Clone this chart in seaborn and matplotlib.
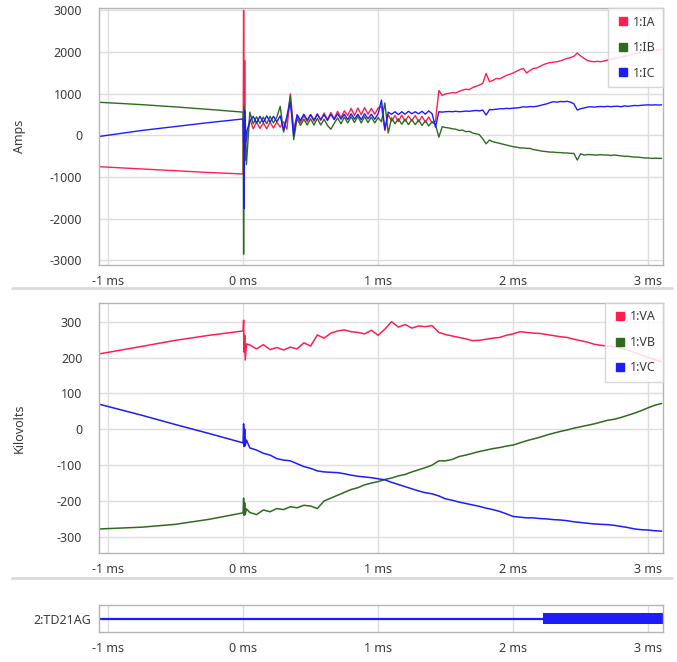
import numpy as np
import pandas as pd
import matplotlib
matplotlib.use("Agg")
import matplotlib.pyplot as plt
from matplotlib.lines import Line2D
from matplotlib.ticker import FuncFormatter, FixedLocator
import seaborn as sns

# ---------------- record time base (ms) ----------------
T_PRE = [-1.067, -0.75, -0.5, -0.25, 0.0]          # pre-fault samples
T_FAULT_I = [0.004, 0.008, 0.012, 0.016]            # inception burst, currents
T_FAULT_V = [0.004, 0.008, 0.012, 0.016, 0.025]     # inception burst, voltages
DT_I = 0.025                                        # post-fault sample step, currents
DT_V = 0.05                                         # post-fault sample step, voltages

# ---------------- currents (A) ----------------
IA_PRE = [-750, -805, -850, -890, -925]
IA_FAULT = [3000, -300, 1800, -150]
IA_POST = [
    -150, 400, 160, 320, 170, 300, 160, 320, 180, 320,
    200, 330, 150, 1000, 150, 470, 300, 480, 330, 500,
    340, 520, 360, 540, 380, 550, 400, 580, 430, 590,
    480, 650, 480, 660, 500, 670, 510, 650, 510, 660,
    700, 120, 500, 340, 480, 330, 490, 340, 470, 350,
    480, 330, 460, 320, 440, 300, 340, 1080, 960, 1000,
    1010, 1030, 1020, 1060, 1090, 1110, 1100, 1150, 1180, 1210,
    1250, 1490, 1290, 1320, 1370, 1360, 1400, 1440, 1470, 1500,
    1540, 1580, 1610, 1500, 1560, 1610, 1620, 1660, 1700, 1730,
    1750, 1760, 1770, 1790, 1820, 1850, 1870, 1900, 1980, 1910,
    1850, 1800, 1780, 1770, 1780, 1770, 1790, 1810, 1830, 1850,
    1860, 1880, 1900, 1920, 1940, 1960, 1980, 1990, 2010, 2020,
    2030, 2040, 2050, 2060,
]

IB_PRE = [797, 740, 685, 625, 560]
IB_FAULT = [-2850, 700, -600, 450]
IB_POST = [
    -700, 560, 280, 450, 290, 440, 280, 460, 300, 440,
    700, 80, 420, 950, -100, 410, 240, 390, 250, 400,
    250, 410, 250, 390, 240, 150, 290, 420, 280, 440,
    300, 450, 310, 460, 300, 450, 310, 440, 300, 430,
    330, 780, 60, 420, 280, 400, 270, 390, 260, 380,
    260, 370, 240, 350, 230, 330, 260, -40, 210, 190,
    180, 160, 150, 120, 130, 90, 100, 60, 40, 20,
    -80, -200, -110, -150, -170, -190, -210, -230, -250, -270,
    -280, -300, -300, -310, -310, -340, -350, -370, -380, -390,
    -400, -400, -410, -410, -420, -420, -430, -430, -590, -440,
    -470, -460, -460, -470, -470, -460, -470, -470, -480, -470,
    -480, -490, -500, -500, -510, -520, -520, -530, -540, -540,
    -550, -545, -550, -550,
]

IC_PRE = [-25, 120, 215, 310, 396]
IC_FAULT = [-150, -1750, 600, -300]
IC_POST = [
    80, 330, 460, 300, 460, 310, 470, 320, 460, 330,
    470, 130, 460, 800, 0, 500, 360, 510, 370, 500,
    370, 510, 380, 500, 360, 510, 380, 520, 390, 510,
    380, 520, 390, 510, 380, 520, 400, 510, 390, 520,
    850, 150, 560, 510, 570, 500, 570, 510, 580, 520,
    570, 520, 580, 510, 590, 520, 200, 570, 560, 570,
    575, 570, 580, 570, 575, 585, 580, 590, 600, 590,
    610, 490, 620, 620, 630, 640, 640, 650, 645, 655,
    660, 670, 690, 680, 695, 690, 700, 720, 740, 760,
    790, 810, 800, 815, 810, 820, 800, 760, 610, 640,
    660, 680, 690, 680, 690, 695, 690, 700, 690, 700,
    700, 690, 710, 700, 710, 720, 715, 725, 730, 735,
    730, 735, 730, 735,
]

# ---------------- voltages (kV) ----------------
VA_PRE = [210, 231, 248, 262, 274]
VA_FAULT = [304, 215, 262, 193, 238]
VA_POST = [
    235, 224, 236, 222, 228, 221, 229, 224, 241, 232,
    263, 254, 268, 274, 277, 272, 270, 266, 276, 262,
    279, 300, 285, 292, 282, 288, 286, 289, 270, 264,
    260, 256, 252, 247, 248, 251, 254, 256, 262, 266,
    272, 270, 268, 267, 264, 261, 258, 256, 251, 247,
    243, 237, 234, 232, 230, 226, 220, 214, 207, 200,
    194, 188,
]

VB_PRE = [-278, -273, -265, -251, -233]
VB_FAULT = [-192, -240, -205, -238, -222]
VB_POST = [
    -232, -238, -225, -230, -221, -224, -216, -219, -212, -214,
    -221, -200, -192, -184, -176, -168, -163, -155, -150, -146,
    -140, -136, -130, -126, -119, -113, -107, -100, -88, -88,
    -84, -76, -72, -67, -62, -58, -54, -51, -47, -44,
    -38, -32, -27, -22, -16, -11, -6, -2, 3, 7,
    11, 15, 20, 25, 28, 33, 39, 45, 52, 60,
    67, 72,
]

VC_PRE = [70, 39, 13, -12, -38]
VC_FAULT = [15, -48, 0, -46, -30]
VC_POST = [
    -52, -58, -67, -72, -82, -86, -88, -96, -104, -109,
    -116, -119, -120, -121, -124, -128, -131, -133, -135, -138,
    -141, -148, -154, -160, -166, -172, -177, -180, -186, -194,
    -198, -203, -207, -211, -215, -220, -224, -229, -236, -243,
    -245, -247, -247, -249, -250, -252, -253, -255, -258, -260,
    -262, -264, -265, -266, -268, -271, -274, -278, -280, -281,
    -283, -284,
]

# ---------------- digital channel ----------------
TD21AG_T = [-1.067, 2.22, 3.11]
TD21AG_STATE = [0, 1, 1]

CURRENT_LABELS = ["1:IA", "1:IB", "1:IC"]
VOLTAGE_LABELS = ["1:VA", "1:VB", "1:VC"]
X_TICKS = [-1, 0, 1, 2, 3]
I_TICKS = [-3000, -2000, -1000, 0, 1000, 2000, 3000]
V_TICKS = [-300, -200, -100, 0, 100, 200, 300]
XLIM = (-1.067, 3.11)

RED, GREEN, BLUE = "#ff1f4f", "#2f6b1f", "#1c1cff"


def trace(pre, fault, post, t_fault, dt):
    t = list(T_PRE) + list(t_fault) + [round(dt * (k + 1), 4) for k in range(len(post))]
    v = list(pre) + list(fault) + list(post)
    return t, v


def long_frame(labels, parts, t_fault, dt):
    frames = []
    for lab, (pre, fault, post) in zip(labels, parts):
        t, v = trace(pre, fault, post, t_fault, dt)
        frames.append(pd.DataFrame({"t": t, "value": v, "channel": lab}))
    return pd.concat(frames, ignore_index=True)


df_i = long_frame(CURRENT_LABELS,
                  [(IA_PRE, IA_FAULT, IA_POST), (IB_PRE, IB_FAULT, IB_POST), (IC_PRE, IC_FAULT, IC_POST)],
                  T_FAULT_I, DT_I)
df_v = long_frame(VOLTAGE_LABELS,
                  [(VA_PRE, VA_FAULT, VA_POST), (VB_PRE, VB_FAULT, VB_POST), (VC_PRE, VC_FAULT, VC_POST)],
                  T_FAULT_V, DT_V)

sns.set_style("white")
plt.rcParams["font.family"] = ["Noto Sans", "DejaVu Sans"]
plt.rcParams["axes.unicode_minus"] = False

W, H = 677, 662
fig = plt.figure(figsize=(W / 100, H / 100), dpi=100)


def fig_axes(left, top, right, bottom):
    return fig.add_axes([left / W, 1 - bottom / H, (right - left) / W, (bottom - top) / H])


ax_i = fig_axes(99, 8, 663, 265)
ax_v = fig_axes(99, 303, 663, 553)
ax_d = fig_axes(99, 605, 663, 632)

TICK_COLOR = "#3a3a3a"
GRID_COLOR = "#dedede"
SPINE_COLOR = "#b4b4b4"
ms_fmt = FuncFormatter(lambda v, p: f"{v:g} ms")


def style_axes(ax):
    for s in ax.spines.values():
        s.set_color(SPINE_COLOR)
        s.set_linewidth(1.0)
    ax.set_xlim(*XLIM)
    ax.xaxis.set_major_locator(FixedLocator(X_TICKS))
    ax.xaxis.set_major_formatter(ms_fmt)
    ax.tick_params(axis="both", length=0, labelsize=9, colors=TICK_COLOR)
    ax.tick_params(axis="x", pad=7)
    ax.tick_params(axis="y", pad=12)
    ax.grid(True, color=GRID_COLOR, linewidth=1.0)
    ax.set_axisbelow(True)
    ax.set_xlabel("")


def add_legend(ax, labels, colors):
    handles = [Line2D([], [], marker="s", linestyle="none", markersize=6,
                      markerfacecolor=c, markeredgecolor=c) for c in colors]
    leg = ax.legend(handles, labels, loc="upper right", borderaxespad=0.0,
                    fontsize=9, frameon=True, fancybox=False, framealpha=0.85,
                    edgecolor="#d0d0d0", labelspacing=1.0, handletextpad=0.2,
                    borderpad=0.6, handlelength=1.2, labelcolor=TICK_COLOR)
    leg.get_frame().set_linewidth(1.0)


# currents
sns.lineplot(data=df_i, x="t", y="value", hue="channel", estimator=None, sort=False,
             palette=[RED, GREEN, BLUE], linewidth=1.0, legend=False, ax=ax_i)
style_axes(ax_i)
ax_i.set_ylim(-3110, 3060)
ax_i.yaxis.set_major_locator(FixedLocator(I_TICKS))
ax_i.set_ylabel("Amps", fontsize=9, color=TICK_COLOR)
ax_i.yaxis.set_label_coords(-0.13, 0.5)
add_legend(ax_i, CURRENT_LABELS, [RED, GREEN, BLUE])

# voltages
sns.lineplot(data=df_v, x="t", y="value", hue="channel", estimator=None, sort=False,
             palette=[RED, GREEN, BLUE], linewidth=1.1, legend=False, ax=ax_v)
style_axes(ax_v)
ax_v.set_ylim(-345, 352)
ax_v.yaxis.set_major_locator(FixedLocator(V_TICKS))
ax_v.set_ylabel("Kilovolts", fontsize=9, color=TICK_COLOR)
ax_v.yaxis.set_label_coords(-0.13, 0.5)
add_legend(ax_v, VOLTAGE_LABELS, [RED, GREEN, BLUE])

# digital channel: thin trace while off, thick band while asserted
df_d = pd.DataFrame({"t": TD21AG_T, "state": TD21AG_STATE})
df_d["level"] = 0.5
sns.lineplot(data=df_d, x="t", y="level", color=BLUE, linewidth=1.6,
             estimator=None, ax=ax_d)
on = np.array(TD21AG_STATE) > 0
ax_d.fill_between(df_d["t"], 0.31, 0.69, where=on, step="post", color=BLUE, linewidth=0)
style_axes(ax_d)
ax_d.set_ylim(0, 1)
ax_d.yaxis.set_major_locator(FixedLocator([0.5]))
ax_d.set_yticklabels(["2:TD21AG"])
ax_d.tick_params(axis="y", pad=6)
ax_d.grid(False, axis="y")
ax_d.set_ylabel("")

# panel separators
for y in (288, 578):
    fig.add_artist(Line2D([12 / W, 672 / W], [1 - y / H] * 2, color="#dadada",
                          linewidth=2.0, transform=fig.transFigure))

fig.savefig("out.png", dpi=100)
